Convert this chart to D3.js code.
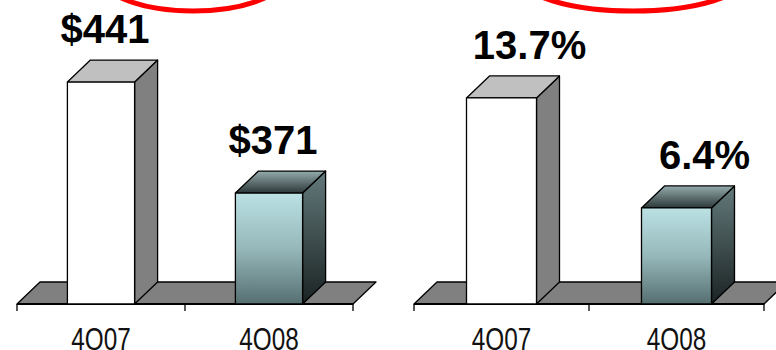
<!DOCTYPE html>
<html>
<head>
<meta charset="utf-8">
<script src="https://cdn.jsdelivr.net/npm/d3@7"></script>
<style>
  html, body { margin: 0; padding: 0; background: #fff; }
  svg { display: block; }
</style>
</head>
<body>
<svg id="chart" width="776" height="350"></svg>
<script>
// Quarterly comparison: amount ($) and margin (%)
const categories = ["4Q07", "4Q08"];
const amountValues = [441, 371];
const amountLabels = ["$441", "$371"];
const marginValues = [13.7, 6.4];
const marginLabels = ["13.7%", "6.4%"];

const svg = d3.select("#chart");
const defs = svg.append("defs");

// Shading for the highlighted (second) column
function vGrad(id, stops) {
  const g = defs.append("linearGradient").attr("id", id)
    .attr("x1", 0).attr("y1", 0).attr("x2", 0).attr("y2", 1);
  stops.forEach(([o, c]) => g.append("stop").attr("offset", o).attr("stop-color", c));
}
vGrad("frontTeal", [[0, "#bbe1e4"], [0.5, "#96b8ba"], [1, "#566f71"]]);
vGrad("sideTeal", [[0, "#63797b"], [1, "#1b2323"]]);
vGrad("topTeal", [[0, "#95abac"], [1, "#2c3839"]]);

const styles = [
  { front: "#ffffff", top: "#c0c0c0", side: "#808080" },
  { front: "url(#frontTeal)", top: "url(#topTeal)", side: "url(#sideTeal)" }
];

const floorY = 304;   // front edge of the floor
const depthX = 23, depthY = 22;

const panels = [
  {
    values: amountValues, labels: amountLabels,
    x0: 17, x1: 353, labelDx: 4,
    y: d3.scaleLinear().domain([300, 450]).range([305.6, 67.8])
  },
  {
    values: marginValues, labels: marginLabels,
    x0: 414, x1: 764, labelDx: 28,
    y: d3.scaleLinear().domain([0, 16]).range([304.4, 63.3])
  }
];

panels.forEach(p => {
  const g = svg.append("g");
  const x = d3.scaleBand().domain(categories).range([p.x0, p.x1]).padding(0);
  const bw = x.bandwidth();
  const barW = bw * 0.4;

  // floor
  g.append("path")
    .attr("d", d3.line()([
      [p.x0, floorY], [p.x0 + depthX, floorY - depthY],
      [p.x1 + depthX, floorY - depthY], [p.x1, floorY]
    ]) + "Z")
    .attr("fill", "#808080").attr("stroke", "#000").attr("stroke-width", 1.3)
    .attr("stroke-linejoin", "round");

  // category axis along the floor's front edge
  g.append("line")
    .attr("x1", p.x0).attr("x2", p.x1).attr("y1", floorY).attr("y2", floorY)
    .attr("stroke", "#000").attr("stroke-width", 2);
  const edges = categories.map(c => x(c)).concat([p.x1]);
  g.selectAll("line.tick").data(edges).join("line")
    .attr("class", "tick")
    .attr("x1", d => d).attr("x2", d => d)
    .attr("y1", floorY).attr("y2", floorY + 7)
    .attr("stroke", "#000").attr("stroke-width", 1.3);

  // condensed category labels
  g.selectAll("text.cat").data(categories).join("text")
    .attr("class", "cat")
    .attr("transform", d => `translate(${x(d) + bw / 2},350) scale(0.76,1)`)
    .attr("text-anchor", "middle")
    .attr("font-family", "'Liberation Sans', Arial, sans-serif")
    .attr("font-size", 32)
    .attr("fill", "#111")
    .text(d => d);

  // 3D columns
  categories.forEach((c, i) => {
    const v = p.values[i];
    const bx0 = x(c) + (bw - barW) / 2, bx1 = bx0 + barW;
    const yt = p.y(v);
    const st = styles[i];
    const bar = g.append("g")
      .attr("stroke", "#000").attr("stroke-width", 1.3).attr("stroke-linejoin", "round");
    bar.append("path")
      .attr("d", d3.line()([[bx1, yt], [bx1 + depthX, yt - depthY],
        [bx1 + depthX, floorY - depthY], [bx1, floorY]]) + "Z")
      .attr("fill", st.side);
    bar.append("path")
      .attr("d", d3.line()([[bx0, yt], [bx0 + depthX, yt - depthY],
        [bx1 + depthX, yt - depthY], [bx1, yt]]) + "Z")
      .attr("fill", st.top);
    bar.append("rect")
      .attr("x", bx0).attr("y", yt).attr("width", barW).attr("height", floorY - yt)
      .attr("fill", st.front);

    g.append("text")
      .attr("x", (bx0 + bx1) / 2 + p.labelDx)
      .attr("y", yt - 39)
      .attr("text-anchor", "middle")
      .attr("font-family", "'Liberation Sans', Arial, sans-serif")
      .attr("font-weight", "bold")
      .attr("font-size", 40)
      .attr("fill", "#000")
      .text(p.labels[i]);
  });
});

// red highlight ovals at the top edge
svg.append("ellipse")
  .attr("cx", 193).attr("cy", -24).attr("rx", 92).attr("ry", 35)
  .attr("fill", "none").attr("stroke", "#ff0000").attr("stroke-width", 5);
svg.append("ellipse")
  .attr("cx", 633).attr("cy", -24).attr("rx", 114).attr("ry", 35)
  .attr("fill", "none").attr("stroke", "#ff0000").attr("stroke-width", 5);
</script>
</body>
</html>
